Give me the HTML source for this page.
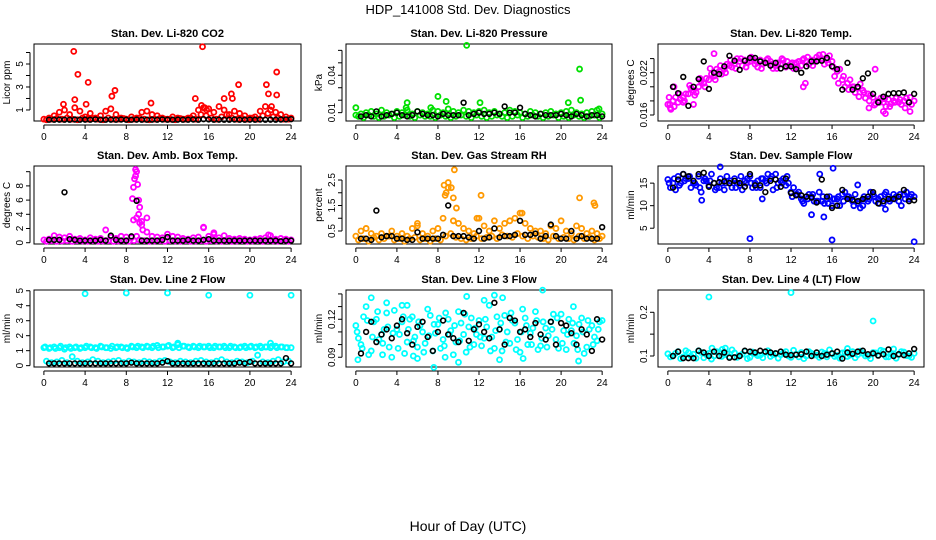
<!DOCTYPE html>
<html><head><meta charset="utf-8"><style>
body{margin:0;background:#fff;}
svg{display:block;font-family:"Liberation Sans",sans-serif;}
</style></head><body>
<svg id="chart" width="936" height="540" viewBox="0 0 936 540">
<text x="468" y="14" text-anchor="middle" font-size="13">HDP_141008  Std. Dev. Diagnostics</text>
<text x="468" y="531" text-anchor="middle" font-size="14">Hour of Day (UTC)</text>
</svg>
<script>
// ---- data ----
const xTicks=[0,4,8,12,16,20,24];
const co2A=[0.2,0.3,0.5,0.8,1.0,0.6,1.2,0.9,0.4,0.7,0.3,0.5,0.9,1.1,0.6,0.3,0.2,0.4,0.3,0.8,0.9,0.6,0.5,0.3,0.2,0.4,0.3,0.2,0.3,0.5,1.0,1.2,1.1,0.8,1.3,1.0,0.6,0.9,0.7,0.5,0.3,0.4,0.9,1.3,1.0,0.8,0.6,0.4,0.3];
const co2B=[0.15,0.2,0.25,0.2,0.3,0.2,0.15,0.3,0.2,0.25,0.2,0.15,0.3,0.2,0.2,0.25,0.15,0.2,0.3,0.2,0.15,0.2,0.25,0.2,0.2,0.15,0.25,0.2,0.3,0.2,0.6,0.5,0.3,0.2,0.4,0.6,0.3,0.2,0.25,0.2,0.3,0.2,0.5,0.7,0.4,0.3,0.2,0.2];
const co2Out=[[2.9,6.1],[3.3,4.1],[4.3,3.4],[3.0,1.9],[1.9,1.5],[4.1,1.5],[6.6,2.2],[6.9,2.7],[10.4,1.6],[14.7,2.0],[15.4,6.5],[15.3,1.4],[17.5,2.0],[18.2,2.4],[18.9,3.2],[21.6,3.2],[21.8,2.4],[22.6,4.3],[22.6,2.3],[22.1,1.3],[18.3,2.0],[15.6,1.2],[15.8,1.0]];
const co2Black=[0.15,0.15,0.16,0.15,0.15,0.17,0.15,0.16,0.15,0.18,0.15,0.15,0.16,0.15,0.17,0.15,0.15,0.16,0.15,0.15,0.16,0.15,0.17,0.15,0.15,0.16,0.15,0.15,0.17,0.15,0.2,0.18,0.15,0.16,0.15,0.15,0.17,0.15,0.15,0.16,0.15,0.17,0.15,0.16,0.15,0.17,0.18,0.2];
const presA=[0.008,0.009,0.010,0.011,0.009,0.012,0.010,0.009,0.011,0.010,0.012,0.009,0.011,0.010,0.009,0.012,0.011,0.010,0.013,0.011,0.010,0.012,0.011,0.010,0.011,0.012,0.010,0.011,0.009,0.010,0.012,0.011,0.010,0.009,0.011,0.010,0.009,0.010,0.011,0.009,0.010,0.011,0.012,0.010,0.009,0.010,0.011,0.012,0.009];
const presB=[0.007,0.006,0.008,0.007,0.006,0.007,0.008,0.006,0.007,0.008,0.007,0.006,0.008,0.007,0.007,0.006,0.008,0.007,0.006,0.007,0.008,0.007,0.006,0.008,0.007,0.006,0.007,0.008,0.007,0.006,0.007,0.008,0.006,0.007,0.008,0.007,0.006,0.007,0.008,0.006,0.007,0.006,0.008,0.007,0.006,0.007,0.008,0.006];
const presOut=[[10.8,0.064],[21.8,0.045],[8.0,0.023],[8.8,0.019],[12.1,0.018],[5.0,0.018],[20.7,0.018],[21.9,0.020],[0,0.014],[7.3,0.014],[23.7,0.013],[4.9,0.014]];
const presBlack=[0.007,0.008,0.007,0.011,0.007,0.008,0.009,0.010,0.008,0.007,0.008,0.011,0.009,0.008,0.008,0.007,0.009,0.008,0.008,0.008,0.018,0.008,0.009,0.010,0.009,0.009,0.010,0.009,0.015,0.010,0.010,0.014,0.009,0.008,0.007,0.009,0.008,0.008,0.008,0.009,0.008,0.007,0.009,0.008,0.007,0.008,0.008,0.007];
const tempA=[0.0175,0.0180,0.0178,0.0185,0.0190,0.0195,0.0200,0.0205,0.0210,0.0215,0.0222,0.0225,0.0230,0.0233,0.0236,0.0238,0.0236,0.0232,0.0238,0.0234,0.0236,0.0230,0.0232,0.0228,0.0232,0.0234,0.0230,0.0236,0.0238,0.0242,0.0240,0.0238,0.0236,0.0222,0.0210,0.0205,0.0200,0.0198,0.0195,0.0190,0.0185,0.0180,0.0178,0.0182,0.0180,0.0178,0.0180,0.0178,0.0180];
const tempB=[0.0170,0.0185,0.0182,0.0190,0.0198,0.0192,0.0208,0.0212,0.0218,0.0225,0.0218,0.0232,0.0228,0.0240,0.0230,0.0234,0.0240,0.0228,0.0232,0.0240,0.0226,0.0234,0.0238,0.0230,0.0226,0.0236,0.0240,0.0232,0.0236,0.0245,0.0232,0.0244,0.0215,0.0225,0.0200,0.0210,0.0192,0.0204,0.0184,0.0188,0.0176,0.0184,0.0172,0.0176,0.0184,0.0175,0.0184,0.0175];
const tempC=[0.0185,0.0172,0.0190,0.0180,0.0202,0.0188,0.0212,0.0200,0.0226,0.0210,0.0230,0.0220,0.0238,0.0226,0.0240,0.0228,0.0242,0.0236,0.0226,0.0238,0.0232,0.0226,0.0240,0.0236,0.0234,0.0228,0.0238,0.0242,0.0230,0.0238,0.0246,0.0234,0.0228,0.0205,0.0215,0.0196,0.0200,0.0186,0.0192,0.0180,0.0174,0.0178,0.0183,0.0172,0.0178,0.0182,0.0170,0.0185];
const tempOut=[[0.3,0.0168],[0.6,0.0200],[2.5,0.0175],[4.5,0.0247],[13.2,0.0200],[13.4,0.0205],[20.2,0.0225],[21.2,0.0162],[23.6,0.0165],[0.2,0.0175],[1.5,0.0178],[19.6,0.0170],[21.0,0.0165]];
const tempBlack=[0.0200,0.0191,0.0214,0.0173,0.0200,0.0211,0.0236,0.0197,0.0220,0.0218,0.0229,0.0244,0.0237,0.0224,0.0237,0.0241,0.0241,0.0236,0.0234,0.0230,0.0234,0.0226,0.0229,0.0229,0.0225,0.0220,0.0229,0.0236,0.0236,0.0237,0.0241,0.0229,0.0225,0.0196,0.0234,0.0196,0.0200,0.0212,0.0219,0.0190,0.0178,0.0186,0.0190,0.0191,0.0191,0.0192,0.0178,0.0190];
const ambA=[0.4,0.5,1.0,0.8,0.7,0.9,0.5,0.6,0.4,0.7,0.5,0.6,1.8,0.8,0.6,0.9,0.8,0.7,0.9,3.0,1.5,0.9,0.8,0.7,1.2,0.9,0.8,0.6,0.5,0.7,0.8,2.1,0.9,1.2,0.7,1.0,0.6,0.5,0.6,0.5,0.4,0.5,0.6,0.7,1.0,0.5,0.6,0.5,0.4];
const ambB=[0.2,0.3,0.2,0.25,0.3,0.2,0.3,0.25,0.2,0.3,0.2,0.25,0.3,0.2,0.25,0.3,0.2,0.3,0.4,0.3,0.2,0.25,0.3,0.2,0.3,0.25,0.2,0.3,0.2,0.25,0.3,0.2,0.3,0.25,0.2,0.3,0.2,0.25,0.3,0.2,0.25,0.3,0.2,0.3,0.25,0.2,0.3,0.2];
const ambOut=[[8.6,6.2],[8.7,7.8],[8.8,9.0],[8.9,10.3],[9.0,10.0],[9.1,8.2],[9.2,6.0],[9.3,5.0],[9.0,3.5],[9.5,2.5],[8.7,3.2],[10.0,3.5],[9.2,4.0],[9.6,1.8],[9.3,2.8],[8.9,9.4],[15.5,2.2],[16.5,1.4],[21.8,1.1]];
const ambBlack=[0.4,0.4,0.4,7.1,0.5,0.4,0.3,0.3,0.3,0.3,0.4,0.3,1.0,0.4,0.3,0.3,0.9,5.9,0.3,0.3,0.3,0.3,0.4,0.8,0.3,0.3,0.3,0.4,0.3,0.3,0.4,0.5,0.3,0.3,0.3,0.3,0.3,0.3,0.3,0.3,0.3,0.3,0.3,0.3,0.3,0.2,0.3,0.3];
const rhA=[0.3,0.5,0.6,0.4,0.3,0.4,0.3,0.5,0.3,0.4,0.3,0.6,0.7,0.4,0.3,0.5,0.6,1.0,2.2,0.9,0.8,0.6,0.5,0.4,1.0,0.7,0.5,0.9,0.6,0.8,0.9,1.0,1.2,0.8,0.6,0.5,0.5,0.4,0.7,0.6,0.9,0.5,0.4,0.7,0.6,0.4,0.5,0.4,0.3];
const rhB=[0.15,0.2,0.1,0.25,0.15,0.2,0.3,0.15,0.2,0.1,0.2,0.25,0.15,0.2,0.1,0.2,0.15,0.3,0.4,0.25,0.2,0.15,0.2,0.3,0.2,0.25,0.3,0.2,0.35,0.3,0.25,0.4,0.3,0.2,0.3,0.25,0.2,0.15,0.3,0.2,0.25,0.2,0.15,0.3,0.2,0.25,0.15,0.2];
const rhOut=[[8.6,2.3],[8.8,2.0],[9.0,2.4],[9.3,2.2],[9.5,1.8],[9.6,2.9],[9.8,1.4],[8.7,1.9],[12.2,1.9],[21.8,1.8],[23.2,1.6],[23.3,1.5],[11.8,1.0],[16.2,1.2],[6.0,0.8]];
const rhBlack=[0.2,0.2,0.15,1.3,0.25,0.3,0.3,0.2,0.2,0.15,0.15,0.45,0.2,0.2,0.2,0.2,0.35,1.5,0.3,0.3,0.3,0.25,0.2,0.5,0.2,0.25,0.6,0.25,0.3,0.3,0.35,0.9,0.35,0.35,0.4,0.2,0.3,0.75,0.3,0.2,0.2,0.5,0.2,0.3,0.2,0.2,0.2,0.65];
const sampA=[15.8,15,16.5,17,16,15,16.5,15.5,14.5,15,14,13.5,15,16,14.5,15.5,16.5,15,14,15.5,16,17,15.5,14.5,13,12.5,11.5,12,12,11,11,11.5,10,11.5,12.5,12,11,10.5,10,11,12.5,11.5,10.5,12,12.5,11,12.5,11.5,12];
const sampB=[14,13.5,15,16,14,14.5,13,15.5,17,14,15,16.5,14,15,13.5,16,14,15.5,16,17,13.5,15,16,15,14,13,10.5,12.5,11,13,10.5,12,11.5,10,13,11.5,12.5,9.5,11.5,13,11,12,13,11.5,12,10,13,12.5];
const sampC=[15,16,14.5,15.5,16.5,15,14,16,15.5,13.5,16,15,15.5,14,16.5,15,15,14,16,15,16.5,14,15,16.5,12,12.5,11,11.5,12.5,11,12,10.5,11.5,12,11,12,10,11,12,11.5,12,10.5,12.5,11,11.5,12.5,11.5,12];
const sampOut=[[8,2.7],[16,2.4],[24,2],[16.1,18.3],[5.1,18.6],[14,8],[15.2,7.5],[3.3,11.2],[9.2,11.5],[21.2,9.2],[18.5,14.6],[14.8,17]];
const sampBlack=[14,15.8,17,16.5,15.5,17,17.3,14.2,15,15.2,15.4,15,15.5,15,14.2,17,14.5,14.5,13,15.5,15.8,14.2,16,12.8,12.3,12.3,12,11.8,10.7,15.8,12,9.5,10,13.5,11.5,11.3,11,11.5,12,13,10.5,11,11.5,11.5,12,13.5,11,11.2];
const l2A=[1.2,1.15,1.25,1.2,1.1,1.25,1.2,1.15,1.2,1.25,1.2,1.3,1.2,1.15,1.2,1.25,1.2,1.3,1.2,1.25,1.3,1.2,1.35,1.25,1.3,1.2,1.4,1.3,1.25,1.3,1.2,1.25,1.3,1.2,1.25,1.3,1.2,1.25,1.2,1.3,1.25,1.2,1.3,1.25,1.2,1.3,1.25,1.2,1.2];
const l2B=[0.3,0.2,0.25,0.35,0.2,0.6,0.3,0.2,0.25,0.4,0.3,0.2,0.25,0.3,0.35,0.2,0.3,0.25,0.2,0.3,0.25,0.2,0.3,0.35,0.25,0.2,0.3,0.25,0.2,0.3,0.35,0.25,0.2,0.3,0.4,0.25,0.2,0.3,0.25,0.2,0.3,0.7,0.25,0.2,0.3,0.4,0.25,0.3];
const l2C=[1.25,1.2,1.15,1.3,1.2,1.15,1.25,1.2,1.3,1.2,1.15,1.25,1.2,1.3,1.25,1.2,1.15,1.25,1.3,1.2,1.25,1.3,1.2,1.25,1.35,1.25,1.2,1.3,1.2,1.25,1.3,1.25,1.2,1.3,1.25,1.2,1.3,1.2,1.25,1.2,1.3,1.25,1.2,1.25,1.3,1.2,1.25,1.2];
const l2Out=[[4,4.8],[8,4.85],[12,4.85],[16,4.7],[20,4.7],[24,4.7],[13,1.5],[22,1.5]];
const l2Black=[0.15,0.15,0.15,0.15,0.15,0.15,0.15,0.15,0.15,0.15,0.15,0.15,0.15,0.15,0.15,0.15,0.2,0.15,0.15,0.15,0.15,0.15,0.2,0.3,0.15,0.15,0.15,0.15,0.15,0.15,0.15,0.15,0.15,0.15,0.15,0.15,0.15,0.2,0.15,0.25,0.15,0.15,0.15,0.15,0.15,0.15,0.5,0.15];
const l3A=[0.115,0.100,0.130,0.095,0.120,0.108,0.125,0.090,0.112,0.118,0.102,0.122,0.098,0.110,0.128,0.095,0.116,0.104,0.120,0.092,0.126,0.108,0.114,0.100,0.119,0.105,0.131,0.097,0.112,0.123,0.101,0.117,0.094,0.121,0.109,0.126,0.099,0.113,0.118,0.104,0.124,0.096,0.111,0.107,0.121,0.098,0.115,0.103,0.119];
const l3B=[0.105,0.122,0.092,0.118,0.104,0.112,0.098,0.127,0.108,0.093,0.120,0.106,0.115,0.101,0.123,0.109,0.097,0.125,0.111,0.102,0.117,0.094,0.121,0.108,0.099,0.114,0.106,0.122,0.095,0.110,0.119,0.104,0.128,0.100,0.113,0.096,0.118,0.107,0.124,0.097,0.111,0.120,0.101,0.116,0.093,0.112,0.106,0.118];
const l3C=[0.110,0.097,0.119,0.106,0.126,0.101,0.114,0.109,0.097,0.122,0.112,0.103,0.118,0.094,0.107,0.116,0.121,0.099,0.108,0.115,0.103,0.124,0.098,0.113,0.106,0.120,0.095,0.111,0.117,0.102,0.125,0.096,0.110,0.115,0.100,0.119,0.105,0.098,0.112,0.121,0.101,0.108,0.117,0.096,0.110,0.119,0.100,0.112];
const l3Out=[[1.5,0.137],[3,0.133],[4.5,0.131],[5,0.131],[10.8,0.138],[12.5,0.135],[13.5,0.139],[14.3,0.137],[18.2,0.143],[21.2,0.130],[7.6,0.082],[2.6,0.092],[0.2,0.088],[6,0.089],[14,0.088],[21.7,0.087],[16.3,0.089],[5.6,0.091],[8.7,0.090],[10,0.086]];
const l3Black=[0.093,0.110,0.118,0.102,0.108,0.112,0.105,0.115,0.120,0.109,0.100,0.114,0.118,0.106,0.095,0.110,0.119,0.108,0.105,0.102,0.125,0.103,0.112,0.116,0.110,0.105,0.133,0.112,0.100,0.121,0.119,0.110,0.112,0.106,0.117,0.108,0.104,0.118,0.100,0.117,0.115,0.109,0.100,0.112,0.108,0.095,0.120,0.104];
const l4A=[0.105,0.100,0.110,0.098,0.108,0.104,0.112,0.096,0.106,0.100,0.109,0.103,0.098,0.107,0.101,0.111,0.097,0.105,0.102,0.108,0.099,0.106,0.103,0.110,0.097,0.104,0.108,0.100,0.106,0.102,0.109,0.098,0.105,0.101,0.107,0.099,0.110,0.103,0.106,0.100,0.108,0.102,0.111,0.098,0.105,0.103,0.109,0.100,0.106];
const l4B=[0.098,0.106,0.094,0.112,0.100,0.095,0.108,0.103,0.093,0.110,0.099,0.106,0.114,0.097,0.104,0.094,0.109,0.101,0.096,0.112,0.103,0.095,0.107,0.100,0.113,0.098,0.094,0.110,0.102,0.097,0.106,0.114,0.099,0.095,0.108,0.102,0.096,0.111,0.100,0.094,0.107,0.113,0.098,0.104,0.095,0.110,0.101,0.097];
const l4Out=[[4,0.235],[12,0.245],[20,0.18],[5.3,0.115],[5.6,0.118],[4.3,0.118],[22,0.116],[17.5,0.117]];
const l4Black=[0.100,0.110,0.095,0.095,0.095,0.112,0.108,0.100,0.110,0.100,0.108,0.096,0.097,0.100,0.112,0.110,0.108,0.112,0.110,0.108,0.106,0.110,0.103,0.102,0.103,0.104,0.110,0.100,0.108,0.100,0.103,0.106,0.110,0.094,0.108,0.105,0.110,0.112,0.104,0.106,0.101,0.104,0.115,0.100,0.104,0.102,0.106,0.116];

// ---- layout ----
const NS="http://www.w3.org/2000/svg";
const svg=document.getElementById('chart');
const cols=[[34,301],[346,612],[658,924]];
const rows=[[44,121],[166,244],[290,367]];
function el(tag,attrs,parent){const e=document.createElementNS(NS,tag);for(const k in attrs)e.setAttribute(k,attrs[k]);(parent||svg).appendChild(e);return e;}
function panel(r,c,name,title,ylab,dom,labTicks,minorTicks,colored,col,outs,black){
  const [L,R]=cols[c],[T,B]=rows[r];
  const g=el('g',{});
  
  
  const xs=h=>L+(h+0.96)/25.92*(R-L);
  const ys=v=>B-(v-dom[0])/(dom[1]-dom[0])*(B-T);
  const t=el('text',{x:(L+R)/2,y:T-7,'text-anchor':'middle','font-size':11,'font-weight':'bold'},g);
  t.textContent=title;
  
  
  const box=el('rect',{x:L,y:T,width:R-L,height:B-T,fill:'none',stroke:'#000','stroke-width':1},g);
  
  
  const xa=el('g',{},g);
  
  
  el('line',{x1:xs(0),x2:xs(24),y1:B+4,y2:B+4,stroke:'#000'},xa);
  xTicks.forEach(h=>{el('line',{x1:xs(h),x2:xs(h),y1:B+4,y2:B+8,stroke:'#000'},xa);
    const tl=el('text',{x:xs(h),y:B+19,'text-anchor':'middle','font-size':10},xa);tl.textContent=h;});
  const ya=el('g',{},g);
  
  
  const all=labTicks.concat(minorTicks);
  const mn=Math.min(...all),mx=Math.max(...all);
  el('line',{x1:L-4,x2:L-4,y1:ys(mn),y2:ys(mx),stroke:'#000'},ya);
  all.forEach(v=>el('line',{x1:L-8,x2:L-4,y1:ys(v),y2:ys(v),stroke:'#000'},ya));
  labTicks.forEach(v=>{const tl=el('text',{x:L-11,y:ys(v),'text-anchor':'middle','font-size':10,transform:`rotate(-90 ${L-11} ${ys(v)})`},ya);tl.textContent=v;});
  const yl=el('text',{x:L-24,y:(T+B)/2,'text-anchor':'middle','font-size':10,transform:`rotate(-90 ${L-24} ${(T+B)/2})`},g);
  yl.textContent=ylab;
  
  
  const sg=el('g',{fill:'none',stroke:col,'stroke-width':1.8},g);
  
  
  colored.forEach((arr,k)=>arr.forEach((v,i)=>{
    const h=i*0.5+(k===1?0.25:(k===2?0.12:0));
    const p=el('circle',{cx:xs(h),cy:ys(v),r:2.5},sg);
    
    
  }));
  outs.forEach(o=>{const p=el('circle',{cx:xs(o[0]),cy:ys(o[1]),r:2.5},sg);
    
    });
  const bg=el('g',{fill:'none',stroke:'#000','stroke-width':1.6},g);
  
  
  black.forEach((v,i)=>{const p=el('circle',{cx:xs((i+1)*0.5),cy:ys(v),r:2.4},bg);
    
    });
}
panel(0,0,'co2','Stan. Dev. Li-820 CO2','Licor ppm',[0.04,6.74],[1,3,5],[2,4,6],[co2A,co2B],'#ff0000',co2Out,co2Black);
panel(0,1,'pressure','Stan. Dev. Li-820 Pressure','kPa',[0.0033,0.0651],[0.01,0.04],[0.02,0.03,0.05,0.06],[presA,presB],'#00e000',presOut,presBlack);
panel(0,2,'temp','Stan. Dev. Li-820 Temp.','degrees C',[0.01515,0.02607],[0.016,0.022],[0.018,0.020,0.024],[tempA,tempB,tempC],'#ff00ff',tempOut,tempBlack);
panel(1,0,'amb-temp','Stan. Dev. Amb. Box Temp.','degrees C',[-0.18,10.8],[0,2,4,6,8],[10],[ambA,ambB],'#ff00ff',ambOut,ambBlack);
panel(1,1,'rh','Stan. Dev. Gas Stream RH','percent',[-0.01,3.05],[0.5,1.5,2.5],[1.0,2.0],[rhA,rhB],'#ff9900',rhOut,rhBlack);
panel(1,2,'sample-flow','Stan. Dev. Sample Flow','ml/min',[1.5,18.8],[5,10,15],[],[sampA,sampB,sampC],'#0000ff',sampOut,sampBlack);
panel(2,0,'line2','Stan. Dev. Line 2 Flow','ml/min',[-0.09,5.05],[0,1,2,3,4,5],[],[l2A,l2B,l2C],'#00ffff',l2Out,l2Black);
panel(2,1,'line3','Stan. Dev. Line 3 Flow','ml/min',[0.0823,0.1431],[0.09,0.12],[0.10,0.11,0.13,0.14],[l3A,l3B,l3C],'#00ffff',l3Out,l3Black);
panel(2,2,'line4','Stan. Dev. Line 4 (LT) Flow','ml/min',[0.0748,0.251],[0.10,0.20],[0.15],[l4A,l4B],'#00ffff',l4Out,l4Black);
</script>
</body></html>
